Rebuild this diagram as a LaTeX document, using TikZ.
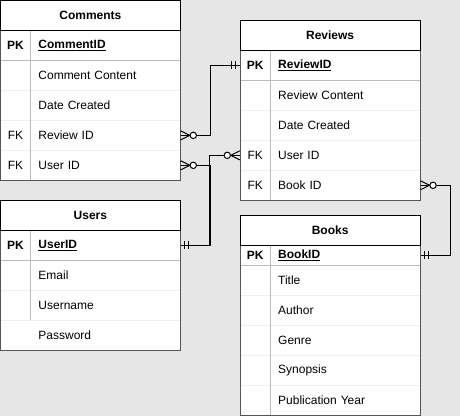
\documentclass[tikz,border=0pt]{standalone}
\usepackage{fontspec}
\setmainfont{Liberation Sans}

\definecolor{canvas}{HTML}{E6E6E6}
\definecolor{rowline}{HTML}{F0F0F0}
\definecolor{keyline}{HTML}{BBBBBB}
\definecolor{edgeline}{HTML}{555555}

\tikzset{
    keycell/.style={minimum width=30pt, minimum height=30pt, inner sep=0pt},
    fieldcell/.style={minimum width=150pt, minimum height=30pt, text width=134pt,
        inner xsep=8pt, inner ysep=0pt, align=left},
    titlecell/.style={draw=black, fill=white, minimum width=180pt, minimum height=30pt,
        inner sep=0pt, font=\bfseries},
    crowzero/.pic={
        \draw (0,-4.5) -- (9,0) -- (0,4.5);
        \draw (0,0) -- (9,0);
        \draw[fill=white] (12.5,0) circle (3.2pt);
    },
    barbar/.pic={
        \draw (4,-4) -- (4,4) (8,-4) -- (8,4);
    }
}

\begin{document}
\begin{tikzpicture}[x=1pt, y=-1pt, line width=1pt, node font=\fontsize{12}{14}\selectfont]
    \fill[canvas] (0,0) rectangle (460,416);

    % Comments table
    \fill[white] (0,30) rectangle (180,180);
    \draw[rowline] (0,90) -- (180,90) (0,120) -- (180,120) (0,150) -- (180,150);
    \draw[keyline] (0,60) -- (180,60) (30,30) -- (30,180);
    \draw[edgeline] (0,30) rectangle (180,180);
    \node[titlecell] (cTitle) at (90,15) {Comments};
    \node[keycell, font=\bfseries] (cPkKey) at (15,45) {PK};
    \node[fieldcell, font=\bfseries] (cPk) at (105,45) {\underline{CommentID}};
    \node[fieldcell] (cText) at (105,75) {Comment Content};
    \node[fieldcell] (cDate) at (105,105) {Date Created};
    \node[keycell] (cRevKey) at (15,135) {FK};
    \node[fieldcell] (cRev) at (105,135) {Review ID};
    \node[keycell] (cUserKey) at (15,165) {FK};
    \node[fieldcell] (cUser) at (105,165) {User ID};

    % Reviews table
    \fill[white] (240,50) rectangle (420,200);
    \draw[rowline] (240,110) -- (420,110) (240,140) -- (420,140) (240,170) -- (420,170);
    \draw[keyline] (240,80) -- (420,80) (270,50) -- (270,200);
    \draw[edgeline] (240,50) rectangle (420,200);
    \node[titlecell] (rTitle) at (330,35) {Reviews};
    \node[keycell, font=\bfseries] (rPkKey) at (255,65) {PK};
    \node[fieldcell, font=\bfseries] (rPk) at (345,65) {\underline{ReviewID}};
    \node[fieldcell] (rText) at (345,95) {Review Content};
    \node[fieldcell] (rDate) at (345,125) {Date Created};
    \node[keycell] (rUserKey) at (255,155) {FK};
    \node[fieldcell] (rUser) at (345,155) {User ID};
    \node[keycell] (rBookKey) at (255,185) {FK};
    \node[fieldcell] (rBook) at (345,185) {Book ID};

    % Users table
    \fill[white] (0,230) rectangle (180,350);
    \draw[rowline] (0,290) -- (180,290) (0,320) -- (180,320);
    \draw[keyline] (0,260) -- (180,260) (30,230) -- (30,320);
    \draw[edgeline] (0,230) rectangle (180,350);
    \node[titlecell] (uTitle) at (90,215) {Users};
    \node[keycell, font=\bfseries] (uPkKey) at (15,245) {PK};
    \node[fieldcell, font=\bfseries] (uPk) at (105,245) {\underline{UserID}};
    \node[fieldcell] (uMail) at (105,275) {Email};
    \node[fieldcell] (uName) at (105,305) {Username};
    \node[fieldcell] (uPass) at (105,335) {Password};

    % Books table
    \fill[white] (240,245) rectangle (420,415);
    \draw[rowline] (240,295) -- (420,295) (240,325) -- (420,325)
        (240,355) -- (420,355) (240,385) -- (420,385);
    \draw[keyline] (240,265) -- (420,265) (270,245) -- (270,415);
    \draw[edgeline] (240,245) rectangle (420,415);
    \node[titlecell] (bTitle) at (330,230) {Books};
    \node[keycell, minimum height=20pt, font=\bfseries] (bPkKey) at (255,255) {PK};
    \node[fieldcell, minimum height=20pt, font=\bfseries] (bPk) at (345,255) {\underline{BookID}};
    \node[fieldcell] (bTitleRow) at (345,280) {Title};
    \node[fieldcell] (bAuthor) at (345,310) {Author};
    \node[fieldcell] (bGenre) at (345,340) {Genre};
    \node[fieldcell] (bSyn) at (345,370) {Synopsis};
    \node[fieldcell] (bYear) at (345,400) {Publication Year};

    % relations
    \draw (cRev.east) -- ++(30,0) |- (rPkKey.west);
    \draw (cUser.east) -- ++(30,0) |- (uPk.east);
    \draw (rUserKey.west) -- ++(-30,0) |- (uPk.east);
    \draw (rBook.east) -- ++(30,0) |- (bPk.east);

    % end markers
    \pic at (cRev.east) {crowzero};
    \pic at (cUser.east) {crowzero};
    \pic[rotate=180] at (rUserKey.west) {crowzero};
    \pic at (rBook.east) {crowzero};
    \pic[rotate=180] at (rPkKey.west) {barbar};
    \pic at (uPk.east) {barbar};
    \pic at (bPk.east) {barbar};
\end{tikzpicture}
\end{document}
